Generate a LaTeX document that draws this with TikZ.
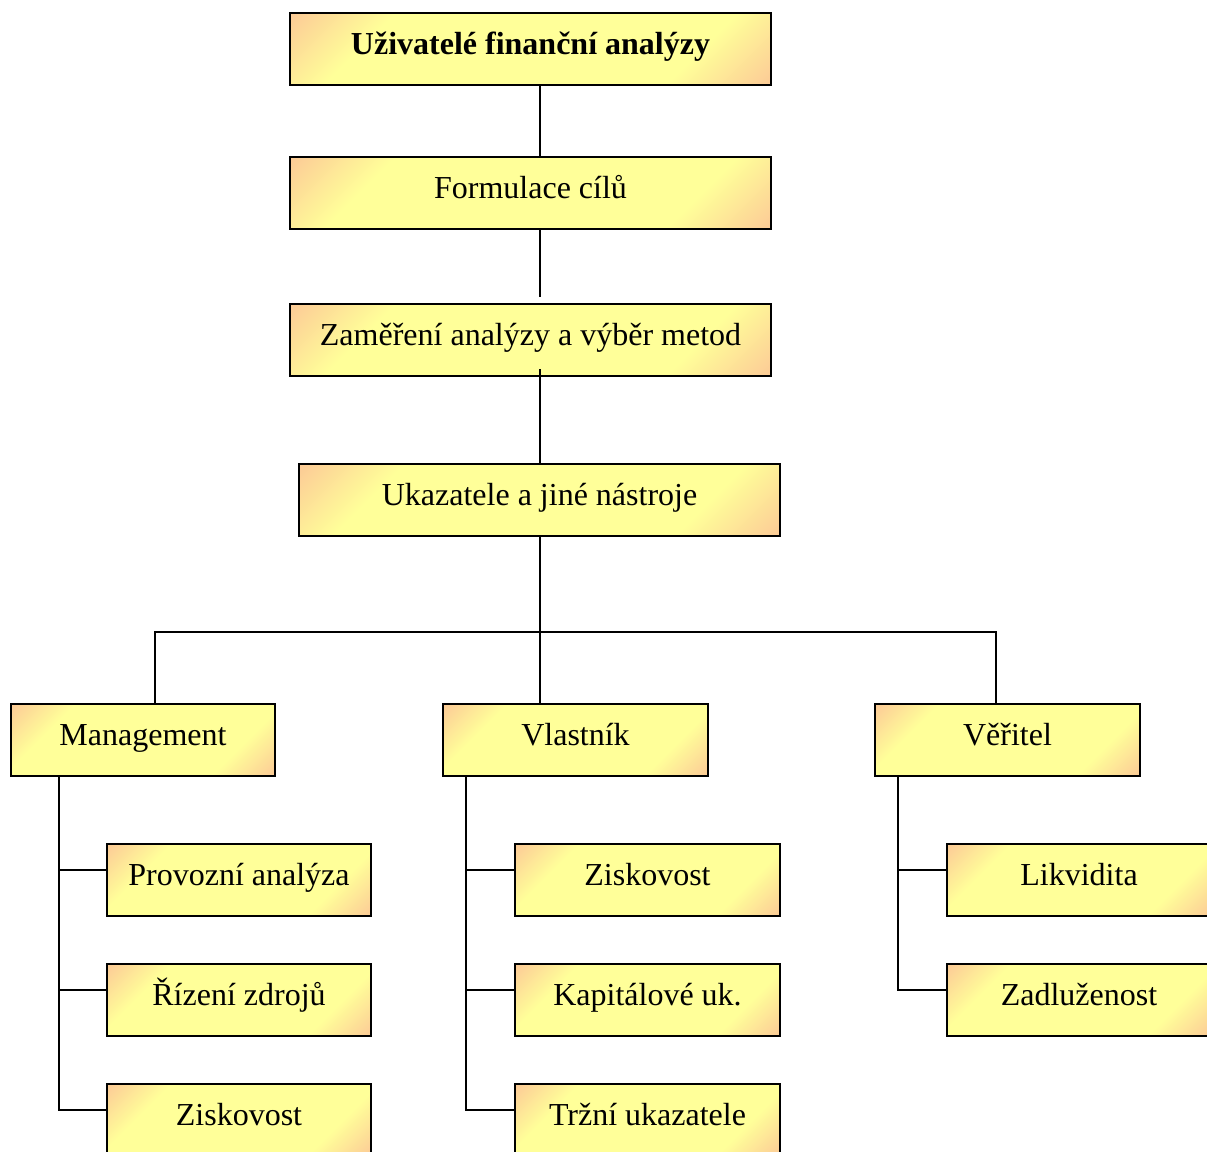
\documentclass[tikz,border=0pt]{standalone}
\usepackage{fontspec}
\setmainfont{Liberation Serif}
\usetikzlibrary{calc}
\newlength{\pxu}
\setlength{\pxu}{0.375pt}
\definecolor{boxor}{RGB}{252,200,150}
\definecolor{boxye}{RGB}{255,255,153}
\pgfdeclarehorizontalshading{boxfill}{100bp}{color(0bp)=(boxor); color(32bp)=(boxor); color(39bp)=(boxye); color(61bp)=(boxye); color(68bp)=(boxor); color(100bp)=(boxor)}
\tikzset{
  ubox/.style={draw, line width=.75pt, minimum height=72\pxu, inner sep=0pt,
    text height=9pt, text depth=5.2pt, font=\fontsize{12}{14}\selectfont,
    path picture={
      \shade[shading=boxfill, shading angle=-45]
        let \p1=(path picture bounding box.south west),
            \p2=(path picture bounding box.north east),
            \n1={(abs(\x2-\x1)+abs(\y2-\y1))/2} in
        ($(path picture bounding box.center)+(-\n1,-\n1)$) rectangle
        ($(path picture bounding box.center)+(\n1,\n1)$);
    }},
  link/.style={line width=.75pt}
}
\begin{document}
\begin{tikzpicture}[x=.375pt,y=-.375pt]
  \useasboundingbox (0,0) rectangle (1207,1151);
  \node[ubox,minimum width=481\pxu,font=\fontsize{12}{14}\selectfont\bfseries] (users) at (530.5,49) {Uživatelé finanční analýzy};
  \node[ubox,minimum width=481\pxu] (goals) at (530.5,193) {Formulace cílů};
  \node[ubox,minimum width=481\pxu] (focus) at (530.5,340) {Zaměření analýzy a výběr metod};
  \node[ubox,minimum width=481\pxu] (tools) at (539.5,500) {Ukazatele a jiné nástroje};
  \node[ubox,minimum width=264\pxu] (mg) at (143,740) {Management};
  \node[ubox,minimum width=265\pxu] (vl) at (575.5,740) {Vlastník};
  \node[ubox,minimum width=265\pxu] (cr) at (1007.5,740) {Věřitel};
  \node[ubox,minimum width=264\pxu] (prov) at (239,880) {Provozní analýza};
  \node[ubox,minimum width=264\pxu] (rz) at (239,1000) {Řízení zdrojů};
  \node[ubox,minimum width=264\pxu] (zisa) at (239,1120) {Ziskovost};
  \node[ubox,minimum width=265\pxu] (zisb) at (647.5,880) {Ziskovost};
  \node[ubox,minimum width=265\pxu] (kap) at (647.5,1000) {Kapitálové uk.};
  \node[ubox,minimum width=265\pxu] (trz) at (647.5,1120) {Tržní ukazatele};
  \node[ubox,minimum width=264\pxu] (lik) at (1079,880) {Likvidita};
  \node[ubox,minimum width=264\pxu] (zad) at (1079,1000) {Zadluženost};
  \coordinate (spine) at (tools.north);
  \coordinate (hub) at (539.5,632);
  \draw[link] (users.south -| spine) -- (goals.north -| spine);
  \draw[link] (goals.south -| spine) -- ($(focus.north -| spine)+(0pt,2.25pt)$);
  \draw[link] ($(focus.south -| spine)+(0pt,3pt)$) -- (tools.north);
  \draw[link] (tools.south) -- (vl.north -| tools.south);
  \draw[link] ([xshift=4.5pt]mg.north) |- (hub) -| ([xshift=-4.3pt]cr.north);
  \foreach \kid in {prov,rz,zisa}
    \draw[link] ([xshift=18.4pt]mg.south west) |- ([yshift=3.75pt]\kid.west);
  \foreach \kid in {zisb,kap,trz}
    \draw[link] ([xshift=9pt]vl.south west) |- ([yshift=3.75pt]\kid.west);
  \foreach \kid in {lik,zad}
    \draw[link] ([xshift=9pt]cr.south west) |- ([yshift=3.75pt]\kid.west);
\end{tikzpicture}
\end{document}
